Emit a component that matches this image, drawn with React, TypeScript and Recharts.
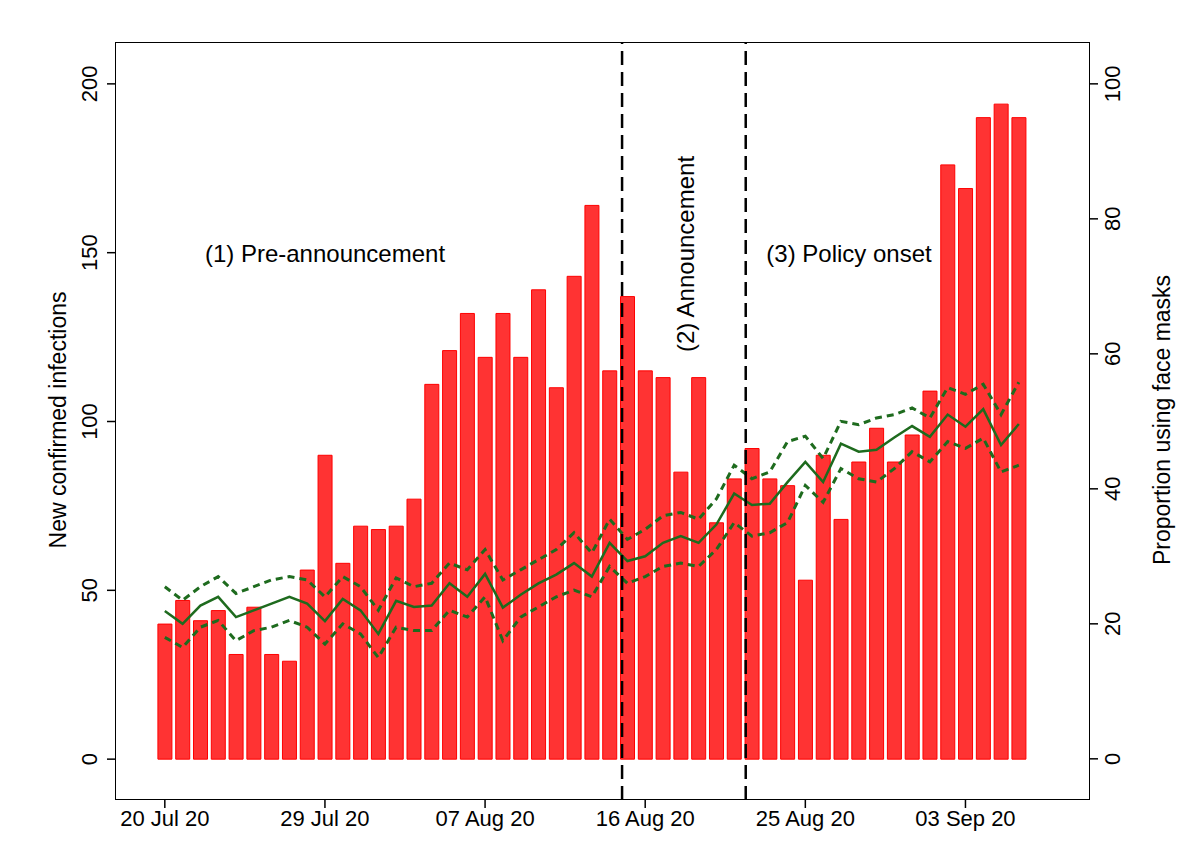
import React from 'react';
import { ComposedChart, Bar, Line, XAxis, YAxis, ReferenceLine } from 'recharts';

const DAY_NAMES = ['20 Jul 20', '29 Jul 20', '07 Aug 20', '16 Aug 20', '25 Aug 20', '03 Sep 20'];
const DAY_TICKS = [0, 9, 18, 27, 36, 45];

const infections = [40, 47, 41, 44, 31, 45, 31, 29, 56, 90, 58, 69, 68, 69, 77, 111, 121, 132, 119, 132,
  119, 139, 110, 143, 164, 115, 137, 115, 113, 85, 113, 70, 83, 92, 83, 81, 53, 90, 71, 88,
  98, 88, 96, 109, 176, 169, 190, 194, 190];
const maskMean = [21.9, 20, 22.7, 24, 21, 22, 23, 24, 23, 20.4, 23.7, 22, 18.5, 23.4, 22.5, 22.7, 26, 24, 27.4, 22.4,
  24.3, 26, 27.3, 29, 27, 32, 29.3, 30, 32, 33, 32, 34.7, 39.3, 37.6, 37.8, 41, 44, 41, 46.7, 45.5,
  45.8, 47.6, 49.3, 47.7, 51, 49.2, 51.8, 46.5, 49.6];
const maskUpper = [25.5, 23.5, 25.5, 27, 24.5, 25.5, 26.5, 27, 26.5, 24, 27, 25.5, 22, 26.8, 25.5, 26, 29, 28, 31, 26.5,
  28, 29.5, 31, 33.5, 30.5, 35.5, 32.5, 34, 36, 36.5, 35.5, 38.5, 43.5, 41.5, 42.5, 47, 47.8, 44.5, 50, 49.5,
  50.5, 51, 52, 50.5, 55, 54, 55.5, 51, 55.8];
const maskLower = [18, 16.5, 19.5, 20.5, 17.5, 19, 19.5, 20.5, 19.5, 17, 20, 18.5, 15, 19.5, 19, 19, 22, 21, 24, 17.5,
  21, 22.5, 24, 25, 24, 28.5, 26, 27, 28.5, 29, 28.5, 31, 35, 33, 33.5, 35, 40.5, 38, 43, 41.5,
  41, 43, 45.5, 44, 47, 46, 47.5, 42.5, 43.5];
// phase boundaries, in days since 20 Jul
const PHASE_LINES = [25.7, 32.65];

const data = infections.map((v, i) => ({
  day: i, cases: v, mean: maskMean[i], upper: maskUpper[i], lower: maskLower[i],
}));

const FONT = 'Liberation Sans, Arial, sans-serif';

const RotTick = ({ x, y, payload, dx }: any) => (
  <text x={x + dx} y={y} transform={`rotate(-90 ${x + dx} ${y})`} textAnchor="middle"
    fontSize={22} fontFamily={FONT} fill="#000">{payload.value}</text>
);

export default function App() {
  return (
    <div style={{ position: 'relative', width: 1203, height: 850, margin: -8, background: '#fff', fontFamily: FONT }}>
      <ComposedChart width={1203} height={850} data={data}
        margin={{ top: 42, right: 63, bottom: 0, left: 65 }}>
        <XAxis dataKey="day" type="number" domain={[-2.8, 52]} ticks={DAY_TICKS}
          tickFormatter={(v) => DAY_NAMES[DAY_TICKS.indexOf(v)]} axisLine={false}
          tickSize={8} tickLine={{ stroke: '#000', strokeWidth: 1.5 }} height={50}
          tick={{ fontSize: 22, fill: '#000', fontFamily: FONT }} allowDataOverflow />
        <YAxis yAxisId="l" domain={[-12.1, 212.4]} ticks={[0, 50, 100, 150, 200]} axisLine={false}
          tickSize={8} tickLine={{ stroke: '#000', strokeWidth: 1.5 }} width={50}
          tick={<RotTick dx={-8} />} allowDataOverflow />
        <YAxis yAxisId="r" orientation="right" domain={[-6.1, 106.2]} ticks={[0, 20, 40, 60, 80, 100]}
          axisLine={false} tickSize={8} tickLine={{ stroke: '#000', strokeWidth: 1.5 }} width={50}
          tick={<RotTick dx={20} />} allowDataOverflow />
        <Bar yAxisId="l" dataKey="cases" barSize={14} fill="#FF3333" stroke="#FF0000" strokeWidth={1}
          isAnimationActive={false} />
        <Line yAxisId="r" dataKey="upper" stroke="#1E6B1E" strokeWidth={3} strokeDasharray="7 5"
          dot={false} isAnimationActive={false} />
        <Line yAxisId="r" dataKey="lower" stroke="#1E6B1E" strokeWidth={3} strokeDasharray="7 5"
          dot={false} isAnimationActive={false} />
        <Line yAxisId="r" dataKey="mean" stroke="#1E6B1E" strokeWidth={2.5}
          dot={false} isAnimationActive={false} />
        {PHASE_LINES.map((x) => (
          <ReferenceLine key={x} yAxisId="l" x={x} stroke="#000" strokeWidth={2.5} strokeDasharray="14 7" />
        ))}
      </ComposedChart>
      <div style={{ position: 'absolute', left: 115, top: 42, width: 975, height: 758,
        border: '1.5px solid #000', boxSizing: 'border-box', pointerEvents: 'none' }} />
      <div style={{ position: 'absolute', left: 325, top: 254, transform: 'translate(-50%,-50%)', fontSize: 24, whiteSpace: 'nowrap' }}>
        (1) Pre-announcement</div>
      <div style={{ position: 'absolute', left: 849, top: 254, transform: 'translate(-50%,-50%)', fontSize: 24, whiteSpace: 'nowrap' }}>
        (3) Policy onset</div>
      <div style={{ position: 'absolute', left: 686, top: 254, transform: 'translate(-50%,-50%) rotate(-90deg)', fontSize: 24, whiteSpace: 'nowrap' }}>
        (2) Announcement</div>
      <div style={{ position: 'absolute', left: 58, top: 420, transform: 'translate(-50%,-50%) rotate(-90deg)', fontSize: 23, whiteSpace: 'nowrap' }}>
        New confirmed infections</div>
      <div style={{ position: 'absolute', left: 1162, top: 420, transform: 'translate(-50%,-50%) rotate(-90deg)', fontSize: 23, whiteSpace: 'nowrap' }}>
        Proportion using face masks</div>
    </div>
  );
}
